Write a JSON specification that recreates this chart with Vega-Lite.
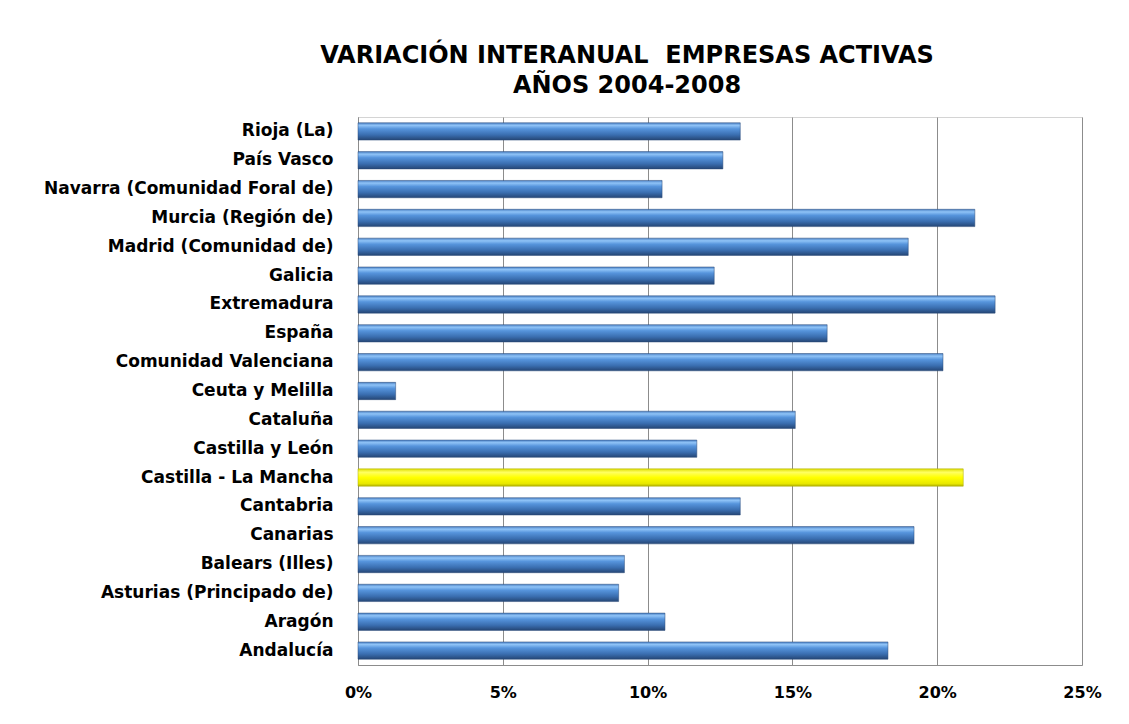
{
  "$schema": "https://vega.github.io/schema/vega-lite/v6.json",
  "autosize": {"type": "none"},
  "padding": {"left": 358, "top": 117, "right": 47, "bottom": 59},
  "width": 724,
  "height": 548,
  "background": "white",
  "title": {
    "text": ["VARIACIÓN INTERANUAL\u00a0 EMPRESAS ACTIVAS", "AÑOS 2004-2008"],
    "anchor": "middle",
    "frame": "group",
    "dx": -93,
    "offset": 19,
    "font": "DejaVu Sans",
    "fontSize": 24,
    "fontWeight": "bold",
    "color": "#000000",
    "lineHeight": 30
  },
  "data": {
    "values": [
      {"region": "Rioja (La)", "value": 0.132, "highlight": "no"},
      {"region": "País Vasco", "value": 0.126, "highlight": "no"},
      {"region": "Navarra (Comunidad Foral de)", "value": 0.105, "highlight": "no"},
      {"region": "Murcia (Región de)", "value": 0.213, "highlight": "no"},
      {"region": "Madrid (Comunidad de)", "value": 0.190, "highlight": "no"},
      {"region": "Galicia", "value": 0.123, "highlight": "no"},
      {"region": "Extremadura", "value": 0.220, "highlight": "no"},
      {"region": "España", "value": 0.162, "highlight": "no"},
      {"region": "Comunidad Valenciana", "value": 0.202, "highlight": "no"},
      {"region": "Ceuta y Melilla", "value": 0.013, "highlight": "no"},
      {"region": "Cataluña", "value": 0.151, "highlight": "no"},
      {"region": "Castilla y León", "value": 0.117, "highlight": "no"},
      {"region": "Castilla - La Mancha", "value": 0.209, "highlight": "yes"},
      {"region": "Cantabria", "value": 0.132, "highlight": "no"},
      {"region": "Canarias", "value": 0.192, "highlight": "no"},
      {"region": "Balears (Illes)", "value": 0.092, "highlight": "no"},
      {"region": "Asturias (Principado de)", "value": 0.090, "highlight": "no"},
      {"region": "Aragón", "value": 0.106, "highlight": "no"},
      {"region": "Andalucía", "value": 0.183, "highlight": "no"}
    ]
  },
  "encoding": {
    "y": {
      "field": "region",
      "type": "nominal",
      "sort": null,
      "title": null,
      "scale": {
        "domain": ["Rioja (La)", "País Vasco", "Navarra (Comunidad Foral de)", "Murcia (Región de)", "Madrid (Comunidad de)", "Galicia", "Extremadura", "España", "Comunidad Valenciana", "Ceuta y Melilla", "Cataluña", "Castilla y León", "Castilla - La Mancha", "Cantabria", "Canarias", "Balears (Illes)", "Asturias (Principado de)", "Aragón", "Andalucía"],
        "paddingInner": 0.4,
        "paddingOuter": 0.2
      },
      "axis": {
        "ticks": false,
        "domain": true,
        "domainColor": "#8c8c8c",
        "labelFont": "DejaVu Sans",
        "labelFontSize": 17,
        "labelFontWeight": "bold",
        "labelColor": "#000000",
        "labelPadding": 25,
        "labelLimit": 400
      }
    },
    "x": {
      "field": "value",
      "type": "quantitative",
      "title": null,
      "scale": {"domain": [0, 0.25], "nice": false},
      "axis": {
        "values": [0, 0.05, 0.1, 0.15, 0.2, 0.25],
        "format": ".0%",
        "grid": true,
        "gridColor": "#8c8c8c",
        "gridWidth": 1,
        "ticks": false,
        "domainColor": "#8c8c8c",
        "labelFlush": false,
        "labelFont": "DejaVu Sans",
        "labelFontSize": 16,
        "labelFontWeight": "bold",
        "labelColor": "#000000",
        "labelPadding": 19
      }
    }
  },
  "layer": [
    {
      "transform": [{"filter": "datum.highlight == 'no'"}],
      "mark": {
        "type": "bar",
        "stroke": "#2a4a78",
        "strokeWidth": 0.5,
        "color": {
          "gradient": "linear",
          "x1": 0, "y1": 0, "x2": 0, "y2": 1,
          "stops": [
            {"offset": 0, "color": "#4a80c4"},
            {"offset": 0.15, "color": "#8fc3f7"},
            {"offset": 0.35, "color": "#5694dc"},
            {"offset": 0.7, "color": "#3a6eb0"},
            {"offset": 1, "color": "#254675"}
          ]
        }
      }
    },
    {
      "transform": [{"filter": "datum.highlight == 'yes'"}],
      "mark": {
        "type": "bar",
        "stroke": "#a8a800",
        "strokeWidth": 0.5,
        "color": {
          "gradient": "linear",
          "x1": 0, "y1": 0, "x2": 0, "y2": 1,
          "stops": [
            {"offset": 0, "color": "#e0e000"},
            {"offset": 0.2, "color": "#ffff60"},
            {"offset": 0.5, "color": "#ffff00"},
            {"offset": 0.85, "color": "#e8e800"},
            {"offset": 1, "color": "#b5b500"}
          ]
        }
      }
    }
  ],
  "config": {
    "view": {"stroke": "#d4d4d4", "strokeWidth": 1}
  }
}
